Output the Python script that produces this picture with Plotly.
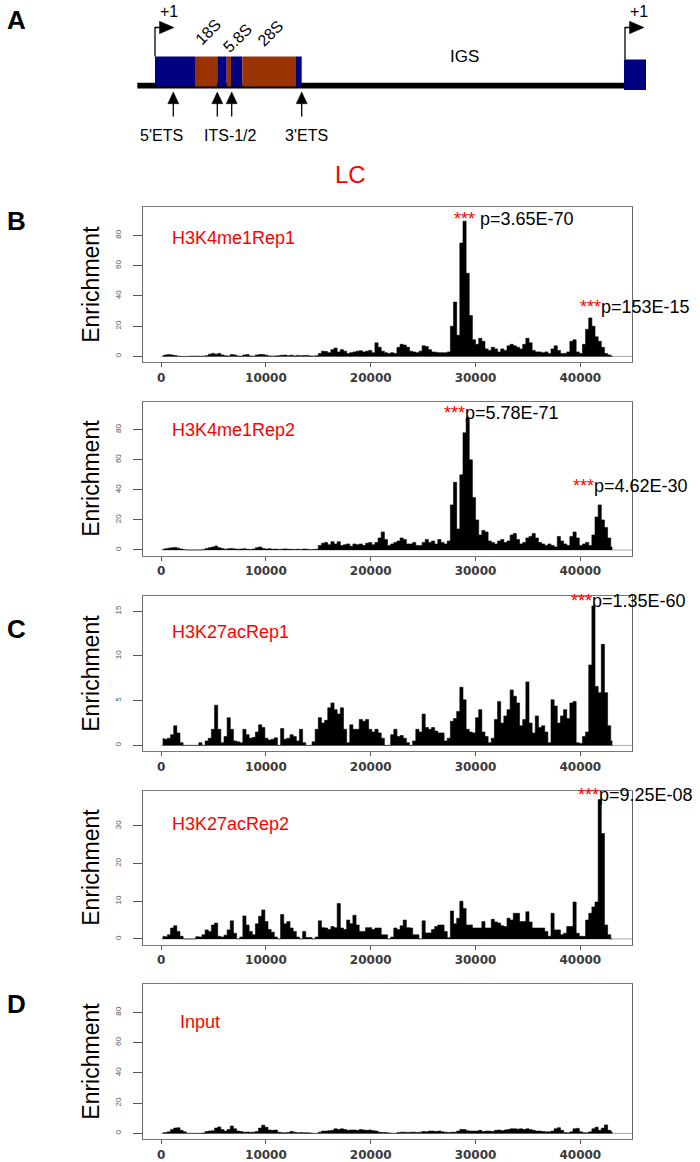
import plotly.graph_objects as go

# ---------------- data ----------------
BIN = 300  # bp per bin
N_BINS = 144
bin_centers = [BIN * i + BIN / 2 for i in range(N_BINS)]

h3k4me1_rep1 = [
    0.5, 1.0, 1.2, 1.0, 0.6, 0.2, 0, 0, 0, 0.2,
    0.2, 0.2, 0.1, 0.2, 0.5, 1.5, 2.0, 1.5, 2.0, 1.0,
    0.5, 0.3, 1.2, 1.0, 0.3, 0.2, 1.0, 1.2, 0.3, 0.2,
    1.0, 1.3, 1.2, 0.8, 0.3, 0.2, 0.3, 0.5, 0.8, 0.9,
    0.5, 0.8, 0.3, 0.7, 0.5, 0.6, 0.7, 0.3, 0.2, 0.5,
    2.0, 3.5, 3.2, 2.5, 4.5, 5.5, 3.0, 4.5, 3.5, 2.0,
    2.5, 3.0, 3.5, 3.8, 3.0, 3.5, 4.0, 2.5, 9.0, 6.0,
    3.5, 2.5, 2.0, 2.5, 2.0, 6.0, 8.0, 7.5, 6.0, 3.5,
    3.0, 2.5, 3.5, 7.0, 6.5, 4.5, 3.0, 2.8, 2.5, 2.5,
    2.5, 3.0, 20, 36, 14, 75, 89.5, 55, 27, 11,
    8, 12, 10, 5, 4, 6, 5, 3, 5, 4,
    7, 8, 7, 6, 5, 8, 12, 9, 4, 3,
    3, 2.5, 3, 2, 5, 7, 4, 2, 2, 3,
    10, 11, 3, 2, 8, 18, 25.5, 20, 13, 10,
    6, 2, 1, 0.3,
]

h3k4me1_rep2 = [
    0.3, 0.8, 1.2, 1.5, 1.7, 1.2, 0.6, 0.2, 0, 0,
    0, 0, 0, 0.2, 1.0, 1.5, 2.0, 2.6, 1.5, 1.0,
    0.5, 0.8, 1.0, 0.7, 0.5, 0.6, 0.8, 0.5, 0.3, 0.7,
    1.5, 2.0, 1.0, 0.6, 0.8, 0.5, 0.6, 0.3, 0.5, 0.7,
    0.5, 0.4, 0.3, 0.5, 0.3, 0.6, 0.5, 0.2, 0.3, 0.5,
    3.0, 4.5, 5.0, 3.5, 5.5, 4.0, 5.5, 3.0, 3.5, 4.0,
    2.5, 4.0, 3.5, 4.0, 3.0, 4.5, 5.0, 3.5, 5.0, 8.0,
    12, 7, 3, 4, 5, 6, 8, 7, 4, 4,
    5, 3, 3, 5, 7, 5, 6, 4, 7, 5,
    4, 6, 30, 45, 14, 50, 78, 88, 60, 35,
    20, 10, 13, 12, 6, 5, 4, 6, 7, 5,
    6, 10, 11, 7, 4, 5, 8, 9, 11, 8,
    5, 4, 3, 4, 3, 2, 9, 6, 4, 3,
    9, 12, 8, 3, 4, 5, 3, 10, 22, 30,
    20, 15, 8, 2,
]

h3k27ac_rep1 = [
    0.75, 0.7, 0.8, 1.2, 2.2, 1.4, 0.3, 0, 0, 0,
    0, 0, 0.3, 0, 0.5, 0.8, 1.8, 4.5, 1.8, 0.3,
    1.0, 3.1, 1.8, 0.5, 0.4, 0.3, 1.8, 1.2, 0.8, 0.9,
    1.5, 2.3, 2.0, 0.8, 0.6, 0.7, 0.85, 0, 1.9, 0.7,
    0.8, 1.2, 1.0, 0.5, 1.8, 0.3, 0, 0, 0.4, 1.8,
    3.1, 2.5, 2.8, 4.2, 4.75, 4.0, 3.5, 4.2, 1.8, 0.3,
    2.3, 1.8, 1.8, 2.9, 2.7, 2.9, 1.8, 1.5, 1.8, 1.4,
    0.8, 0, 0, 1.2, 1.8, 1.0, 1.1, 0.8, 0.3, 0,
    0.5, 1.8, 1.5, 3.5, 2.0, 1.8, 2.0, 1.6, 1.4, 1.4,
    0.5, 0.8, 2.7, 3.0, 3.8, 6.5, 5.1, 1.8, 1.5, 1.4,
    3.1, 4.0, 1.5, 1.0, 0.3, 0.8, 2.9, 4.9, 2.5, 3.3,
    4.0, 6.2, 5.5, 4.75, 2.2, 2.9, 7.1, 2.5, 1.4, 3.3,
    2.0, 2.2, 1.5, 0.3, 5.1, 4.4, 2.5, 3.3, 4.0, 3.0,
    4.75, 4.9, 0.3, 0.2, 1.0, 1.5, 9.0, 15.6, 6.6, 5.9,
    11.3, 5.9, 2.2, 0.5,
]

h3k27ac_rep2 = [
    0.7, 0.6, 1.1, 2.9, 3.5, 2.0, 0.7, 0, 0, 0,
    0, 0.6, 0.5, 1.1, 2.4, 2.0, 3.7, 4.2, 0.7, 0.5,
    1.0, 2.4, 4.8, 1.5, 0, 0.5, 6.1, 3.7, 2.0, 1.1,
    4.0, 6.0, 7.7, 4.6, 2.5, 1.8, 0.5, 0, 6.5, 4.0,
    4.6, 2.9, 2.0, 0.5, 0, 2.0, 0.4, 0.4, 0, 0.5,
    4.8, 3.0, 2.9, 2.5, 3.3, 3.0, 9.4, 2.9, 2.5, 5.0,
    4.0, 6.3, 3.7, 2.0, 2.0, 3.0, 3.0, 2.5, 2.9, 2.9,
    1.1, 1.1, 0, 0.5, 2.9, 2.5, 3.5, 5.0, 3.0, 2.9,
    1.1, 1.1, 0, 4.8, 1.6, 1.6, 2.5, 3.3, 3.7, 3.7,
    2.0, 0.3, 7.4, 4.0, 5.5, 10.0, 8.1, 3.7, 3.7, 2.9,
    2.9, 2.9, 4.6, 2.9, 2.9, 5.2, 4.5, 4.2, 3.5, 3.3,
    5.5, 5.0, 6.8, 6.8, 4.6, 4.6, 7.2, 4.5, 2.9, 2.9,
    2.9, 2.9, 2.0, 0.7, 6.8, 2.4, 2.4, 1.1, 1.5, 3.3,
    3.3, 9.8, 1.5, 0.7, 0.7, 5.0, 6.8, 8.5, 9.8, 37,
    28, 3.7, 1.1, 0,
]

input_ctrl = [
    0.3, 0.5, 1.0, 2.5, 3.5, 3.7, 2.0, 1.0, 0, 0,
    0, 0, 0, 0.2, 1.2, 1.5, 1.8, 3.5, 4.3, 2.5,
    1.5, 2.5, 4.8, 3.0, 1.5, 1.2, 0.8, 0.9, 0.7, 0.8,
    1.2, 3.5, 5.4, 4.0, 2.2, 2.0, 2.2, 0.8, 0.4, 0.4,
    0.5, 1.3, 0.8, 0.4, 0.5, 0.4, 0.4, 0.2, 0, 0,
    0.8, 1.5, 1.5, 1.8, 2.0, 3.0, 2.5, 3.0, 2.5, 2.0,
    2.2, 2.2, 2.0, 2.5, 2.2, 2.0, 2.2, 1.8, 1.5, 0.8,
    0.6, 0.5, 0.3, 0, 0, 0.5, 0.8, 0.8, 0.6, 0.8,
    0.8, 0.6, 0.8, 1.2, 1.0, 1.5, 1.5, 1.2, 1.5, 1.0,
    0.8, 0.6, 0.8, 0.8, 1.5, 2.6, 2.5, 1.8, 1.5, 1.5,
    1.5, 2.0, 1.2, 1.5, 1.5, 1.2, 2.0, 2.2, 1.8, 2.2,
    2.5, 3.0, 3.0, 2.8, 3.0, 2.5, 3.0, 2.5, 2.0, 1.5,
    1.5, 1.2, 1.0, 1.0, 1.5, 3.0, 3.7, 2.0, 0.5, 0.4,
    1.0, 3.0, 3.3, 1.0, 0.4, 0.4, 1.0, 3.0, 4.1, 2.0,
    3.5, 5.6, 2.0, 1.0,
]

series_names = ["H3K4me1Rep1", "H3K4me1Rep2", "H3K27acRep1", "H3K27acRep2", "Input"]
series_values = [h3k4me1_rep1, h3k4me1_rep2, h3k27ac_rep1, h3k27ac_rep2, input_ctrl]
y_tick_values = [[0, 20, 40, 60, 80], [0, 20, 40, 60, 80], [0, 5, 10, 15],
                 [0, 10, 20, 30], [0, 20, 40, 60, 80]]
y_max = [94.8, 94.8, 16.03, 37.8, 94.8]     # axis data max (R ylim)
x_tick_values = [0, 10000, 20000, 30000, 40000]

# p-value annotations
pval_panel = [0, 0, 1, 1, 2, 3]
pval_x = [27757, 39734, 26778, 39078, 38945, 39610]
pval_y = [90.6, 33.0, 91.0, 42.8, 16.2, 38.3]
pval_text = ["p=3.65E-70", "p=153E-15", "p=5.78E-71", "p=4.62E-30", "p=1.35E-60", "p=9.25E-08"]
pval_gap = [" ", "", "", "", "", ""]

# rDNA schematic (schematic units)
rdna_regions = ["5'ETS", "18S", "ITS1", "5.8S", "ITS2", "28S", "3'ETS"]
rdna_lengths = [40, 22.3, 9.4, 4.3, 11.3, 53.7, 5.7]
rdna_colors = ["#000080", "#993300", "#000080", "#993300", "#000080", "#993300", "#000080"]
rdna_start = 155
igs_length = 322.3
next_unit_length = 22
probe_labels = ["5'ETS", "ITS-1/2", "3'ETS"]
probe_arrows = [173.3, 217.3, 231.7, 301.7]

# ---------------- layout geometry ----------------
W, H = 700, 1162
X0, X1 = 143 / W, 632 / W
panel_px = [(209, 365), (405, 560), (601, 757), (797, 952), (992, 1148)]
x_range = [-0.04 * 43200, 43200 * 1.04]
label_pos = [(0.0558, 0.801), (0.0558, 0.819), (0.0558, 0.769), (0.0558, 0.787), (0.0716, 0.756)]

FONT = "Liberation Sans, Arial, sans-serif"

fig = go.Figure()
layout = dict(width=W, height=H, margin=dict(l=0, r=0, t=0, b=0),
              plot_bgcolor="white", paper_bgcolor="white", showlegend=False,
              font=dict(family=FONT))
annotations = []
shapes = []

for k in range(5):
    idx = "" if k == 0 else str(k + 1)
    vals = series_values[k]
    top, bot = panel_px[k]
    m = y_max[k]
    shapes.append(dict(type="line", xref="x" + idx, yref="y" + idx, x0=0, x1=x_range[1],
                       y0=0, y1=0, line=dict(color="#aaaaaa", width=1), layer="below"))
    fig.add_trace(go.Scatter(x=bin_centers, y=vals, xaxis="x" + idx, yaxis="y" + idx,
                             mode="lines", line=dict(color="black", width=0.6, shape="hvh"),
                             fill="tozeroy", fillcolor="black",
                             name=series_names[k], hoverinfo="x+y"))
    layout["xaxis" + idx] = dict(domain=[X0, X1], anchor="y" + idx, range=x_range,
                                 tickvals=x_tick_values, ticktext=[str(v) for v in x_tick_values],
                                 ticks="outside", ticklen=4, tickwidth=1, tickcolor="#555",
                                 showline=True, linecolor="#777", linewidth=1, mirror=True,
                                 showgrid=False, zeroline=False,
                                 tickfont=dict(family="DejaVu Sans", size=12, color="#3a3a3a", weight="bold"))
    layout["yaxis" + idx] = dict(domain=[1 - bot / H, 1 - top / H], anchor="x" + idx,
                                 range=[-0.04 * m, 1.04 * m], tickvals=y_tick_values[k],
                                 ticks="outside", ticklen=9, tickwidth=1, tickcolor="#555",
                                 tickangle=-90, ticklabelstandoff=9,
                                 showline=True, linecolor="#666", linewidth=1, mirror=True,
                                 showgrid=False, zeroline=False,
                                 tickfont=dict(family=FONT, size=8, color="#555"))
    lx, ly = label_pos[k]
    annotations.append(dict(xref=f"x{idx} domain", yref=f"y{idx} domain", x=lx, y=ly,
                            text=series_names[k], showarrow=False, xanchor="left", yanchor="middle",
                            font=dict(family=FONT, size=18, color="red")))
    annotations.append(dict(xref="paper", yref="paper", x=91 / W, y=1 - (top + bot) / 2 / H,
                            xanchor="center", yanchor="middle",
                            text="Enrichment", textangle=-90, showarrow=False,
                            font=dict(family=FONT, size=23, color="black")))

for p, xv, yv, txt, gap in zip(pval_panel, pval_x, pval_y, pval_text, pval_gap):
    idx = "" if p == 0 else str(p + 1)
    annotations.append(dict(xref="x" + idx, yref="y" + idx, x=xv, y=yv, showarrow=False,
                            xanchor="left", yanchor="middle",
                            text=f"<span style='color:red'>***</span>{gap}{txt}",
                            font=dict(family=FONT, size=18, color="black")))

for letter, ypx in zip(["A", "B", "C", "D"], [20, 223, 634, 1012]):
    annotations.append(dict(xref="paper", yref="paper", x=16 / W, y=1 - ypx / H, text=f"<b>{letter}</b>",
                            xanchor="center", yanchor="middle",
                            showarrow=False, font=dict(family=FONT, size=26, color="black")))
annotations.append(dict(xref="paper", yref="paper", x=350 / W, y=1 - 176 / H, text="LC",
                        xanchor="center", yanchor="middle",
                        showarrow=False, font=dict(family=FONT, size=24, color="red")))

# ---------------- schematic (panel A) ----------------
layout["xaxis6"] = dict(domain=[0, 1], range=[0, W], visible=False, anchor="y6")
layout["yaxis6"] = dict(domain=[1 - 160 / H, 1], range=[160, 0], visible=False, anchor="x6")
fig.add_trace(go.Scatter(x=[0], y=[0], xaxis="x6", yaxis="y6", mode="markers",
                         marker=dict(opacity=0), hoverinfo="skip"))
S = dict(xref="x6", yref="y6")
line_start = rdna_start - 17.7
unit_end = rdna_start + sum(rdna_lengths)
next_start = unit_end + igs_length
shapes.append(dict(type="rect", x0=line_start, x1=next_start + 1, y0=83.3, y1=89.3,
                   fillcolor="black", line=dict(width=0), **S))
pos = rdna_start
for ln, col in zip(rdna_lengths, rdna_colors):
    shapes.append(dict(type="rect", x0=pos, x1=pos + ln, y0=57, y1=87.3, fillcolor=col,
                       line=dict(width=0), **S))
    pos += ln
shapes.append(dict(type="rect", x0=next_start, x1=next_start + next_unit_length, y0=60, y1=90.7,
                   fillcolor="#000080", line=dict(width=0), **S))

for xs, ytop in [(rdna_start, 57), (next_start + 1, 60)]:
    shapes.append(dict(type="path", path=f"M {xs},{ytop} L {xs},27.7 L {xs + 5},27.7",
                       line=dict(color="black", width=1.3), **S))
    shapes.append(dict(type="path", path=f"M {xs + 4.5},21.5 L {xs + 19},27.7 L {xs + 4.5},34 Z",
                       fillcolor="black", line=dict(color="black", width=0.5), **S))
    annotations.append(dict(x=xs + 13.5, y=11.5, text="+1", showarrow=False,
                            xanchor="center", yanchor="middle",
                            font=dict(family=FONT, size=16, color="black"), **S))

for xa in probe_arrows:
    shapes.append(dict(type="line", x0=xa, x1=xa, y0=117.5, y1=103, line=dict(color="black", width=1.3), **S))
    shapes.append(dict(type="path", path=f"M {xa - 5.5},104.5 L {xa},92.7 L {xa + 5.5},104.5 Z",
                       fillcolor="black", line=dict(color="black", width=0.5), **S))
for lab, xc in zip(probe_labels, [161.5, 230.5, 306.5]):
    annotations.append(dict(x=xc, y=136.5, text=lab, showarrow=False,
                            xanchor="center", yanchor="middle",
                            font=dict(family=FONT, size=16, color="black"), **S))

for lab, xc, yc in [("18S", 207.5, 32.5), ("5.8S", 237, 38.5), ("28S", 270, 33.5)]:
    annotations.append(dict(x=xc, y=yc, text=lab, textangle=-45, showarrow=False,
                            xanchor="center", yanchor="middle",
                            font=dict(family=FONT, size=16, color="black"), **S))
annotations.append(dict(x=464, y=57, text="IGS", showarrow=False,
                        xanchor="center", yanchor="middle",
                        font=dict(family=FONT, size=17, color="black"), **S))

layout["annotations"] = annotations
layout["shapes"] = shapes
fig.update_layout(**layout)
fig.write_html("out.html", config={"displayModeBar": False},
               post_script="document.body.style.margin='0';document.body.style.padding='0';"
                           "document.documentElement.style.overflow='hidden';")
